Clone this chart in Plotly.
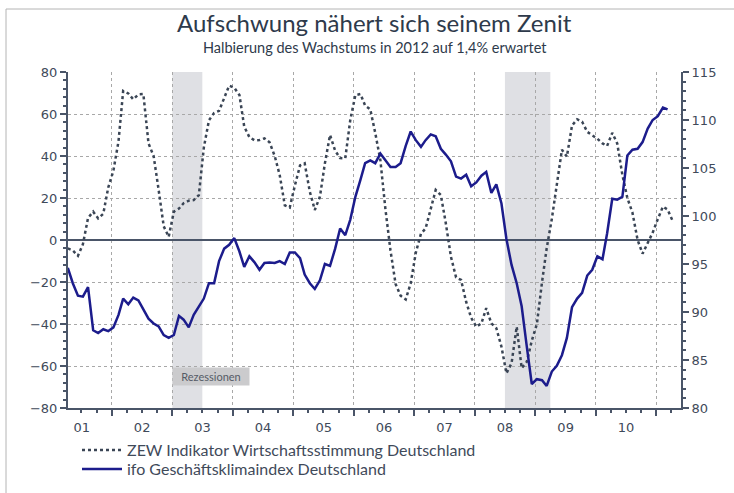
import pandas as pd
import plotly.graph_objects as go

# ZEW Indikator (left axis), monthly from Apr 2001 to Apr 2011
zew = [-4, -5, -7.5, -2, 10.5, 13.5, 10.3, 12.5, 25, 33, 47, 71, 69.8, 67, 69.3, 69.5,
       46, 40, 24, 6.5, 1.5, 13.5, 15, 17.5, 18.7, 19, 21.4, 44, 57, 60.5, 61.5, 68,
       73.5, 72.5, 69, 54, 49, 47.5, 47.6, 48.4, 46.5, 40, 31, 16.5, 15.5, 26, 35.5, 36.5,
       23, 14.3, 20.6, 36.5, 50, 42.5, 39, 38.9, 57, 69, 69.5, 64, 62.2, 51, 38, 15,
       -5, -21, -26.5, -28.3, -20.6, -6, 3, 5.5, 15, 23.8, 21.4, 8, -8, -17.8, -19, -29.5,
       -37, -41.3, -39.7, -32.5, -39.7, -42, -50.8, -63.5, -58.7, -41.3, -61, -58, -48, -40, -20, -4,
       10, 26, 43, 39.7, 54.5, 57.5, 56.3, 51.5, 50, 48.2, 46, 44.8, 51, 46, 31, 20,
       13, 0, -6.5, -1, 3.5, 10, 15.9, 14.5, 9]

# ifo Geschäftsklimaindex (right axis), monthly from Apr 2001 to Mar 2011
ifo = [94.6, 93.0, 91.7, 91.6, 92.6, 88.1, 87.8, 88.2, 88.0, 88.4, 89.7, 91.4, 90.8, 91.5, 91.2, 90.2,
       89.3, 88.8, 88.5, 87.6, 87.3, 87.6, 89.6, 89.2, 88.4, 89.7, 90.6, 91.4, 93.0, 93.0, 95.3, 96.6,
       97.0, 97.7, 96.3, 94.7, 95.8, 95.2, 94.4, 95.1, 95.15, 95.1, 95.3, 95.0, 96.2, 96.2, 95.6, 93.9,
       93.0, 92.4, 93.3, 95.0, 94.8, 96.6, 98.7, 98.0, 99.6, 102.0, 103.8, 105.5, 105.8, 105.5, 106.5, 105.8,
       105.1, 105.1, 105.5, 107.3, 108.8, 107.9, 107.2, 107.9, 108.5, 108.3, 107.0, 106.4, 105.7, 104.1, 103.9, 104.3,
       103.1, 103.5, 104.2, 104.6, 102.4, 103.3, 101.3, 97.6, 94.9, 93.0, 90.6, 86.4, 82.5, 83.0, 82.9, 82.3,
       83.8, 84.4, 85.5, 87.3, 90.5, 91.4, 92.0, 93.8, 94.4, 95.8, 95.5, 98.2, 101.8, 101.7, 102.0, 106.3,
       106.9, 107.0, 107.7, 109.1, 110.0, 110.4, 111.3, 111.1]

recessions = [("2003-01-01", "2003-07-01"), ("2008-07-01", "2009-04-01")]

dates_zew = pd.date_range("2001-04-01", periods=len(zew), freq="MS") + pd.Timedelta(days=9)
dates_ifo = pd.date_range("2001-04-01", periods=len(ifo), freq="MS") + pd.Timedelta(days=9)

W, H = 734, 493
L, R, T, B = 68, 681, 72, 408
PW, PH = R - L, B - T


def px(x):
    return (x - L) / PW


def py(y):
    return (B - y) / PH


AX = "#4a5568"
TXT = "#3f4a5a"
GRID = "#a8a8a8"

fig = go.Figure()
fig.add_trace(go.Scatter(x=dates_zew, y=zew, mode="lines", legend="legend",
                         name="ZEW Indikator Wirtschaftsstimmung Deutschland",
                         line=dict(color="#3a4555", width=2.5, dash="dot")))
fig.add_trace(go.Scatter(x=dates_ifo, y=ifo, mode="lines", yaxis="y2", legend="legend2",
                         name="ifo Geschäftsklimaindex Deutschland",
                         line=dict(color="#1c1c8c", width=2.5)))

shapes = []
for a, b in recessions:
    shapes.append(dict(type="rect", xref="x", yref="paper", x0=a, x1=b, y0=0, y1=1,
                       fillcolor="#dfe0e4", line=dict(width=0), layer="below"))
shapes.append(dict(type="line", xref="paper", yref="paper",
                   x0=px(6), x1=px(734), y0=py(9), y1=py(9),
                   line=dict(color="#b4b4b4", width=1)))
shapes.append(dict(type="line", xref="paper", yref="paper",
                   x0=px(6), x1=px(6), y0=py(9), y1=py(495),
                   line=dict(color="#b4b4b4", width=1)))

annotations = [
    dict(text="Aufschwung nähert sich seinem Zenit", xref="paper", yref="paper",
         x=0.5, y=py(22), showarrow=False, xanchor="center", yanchor="middle",
         font=dict(family="Lato", size=24, color="#2e3a4b")),
    dict(text="Halbierung des Wachstums in 2012 auf 1,4% erwartet", xref="paper", yref="paper",
         x=0.5, y=py(47), showarrow=False, xanchor="center", yanchor="middle",
         font=dict(family="Lato", size=14.5, color="#2e3a4b")),
    dict(text="Rezessionen", xref="paper", yref="paper",
         x=px(211), y=py(376), showarrow=False, xanchor="center", yanchor="middle",
         bgcolor="#cbcbcd", width=74, height=15,
         font=dict(family="Lato", size=11, color="#555b66")),
]

leg_common = dict(xref="container", yref="container", xanchor="left", yanchor="top",
                  font=dict(family="Lato", size=16, color=TXT), bgcolor="rgba(0,0,0,0)",
                  itemwidth=40)

fig.update_layout(
    width=W, height=H,
    margin=dict(l=L, r=W - R, t=T, b=H - B, autoexpand=False),
    paper_bgcolor="white", plot_bgcolor="white",
    showlegend=True,
    legend=dict(x=77 / W, y=1 - 433 / H, **leg_common),
    legend2=dict(x=77 / W, y=1 - 452 / H, **leg_common),
    shapes=shapes,
    annotations=annotations,
    xaxis=dict(
        type="date", range=["2001-04-11", "2011-05-30"], automargin=False,
        tick0="2001-01-01", dtick="M12", tickformat="%y", ticklabelmode="period",
        showgrid=True, gridcolor=GRID, griddash="dot", gridwidth=1,
        showline=True, linecolor=AX, linewidth=2,
        ticks="outside", ticklen=6, tickcolor=AX, tickwidth=1.5,
        minor=dict(dtick="M3", tick0="2001-01-01", ticks="outside", ticklen=3, tickcolor=AX, showgrid=False),
        tickfont=dict(family="DejaVu Sans", size=13, color=TXT),
        zeroline=False,
    ),
    yaxis=dict(
        range=[-80, 80], dtick=20, tick0=0, automargin=False,
        showgrid=True, gridcolor=GRID, griddash="dot", gridwidth=1,
        showline=True, linecolor=AX, linewidth=2,
        ticks="outside", ticklen=6, tickcolor=AX, tickwidth=1.5,
        minor=dict(dtick=4, ticks="outside", ticklen=3, tickcolor=AX, showgrid=False),
        zeroline=True, zerolinecolor=AX, zerolinewidth=1.5,
        tickfont=dict(family="DejaVu Sans", size=13, color=TXT),
    ),
    yaxis2=dict(
        range=[80, 115], dtick=5, tick0=80, overlaying="y", side="right", automargin=False,
        showgrid=False, zeroline=False,
        showline=True, linecolor=AX, linewidth=2,
        ticks="outside", ticklen=6, tickcolor=AX, tickwidth=1.5,
        minor=dict(dtick=1, ticks="outside", ticklen=3, tickcolor=AX, showgrid=False),
        tickfont=dict(family="DejaVu Sans", size=13, color=TXT),
    ),
)

fig.write_html("out.html", config={"displayModeBar": False},
               post_script="document.body.style.margin='0';document.body.style.overflow='hidden';")
